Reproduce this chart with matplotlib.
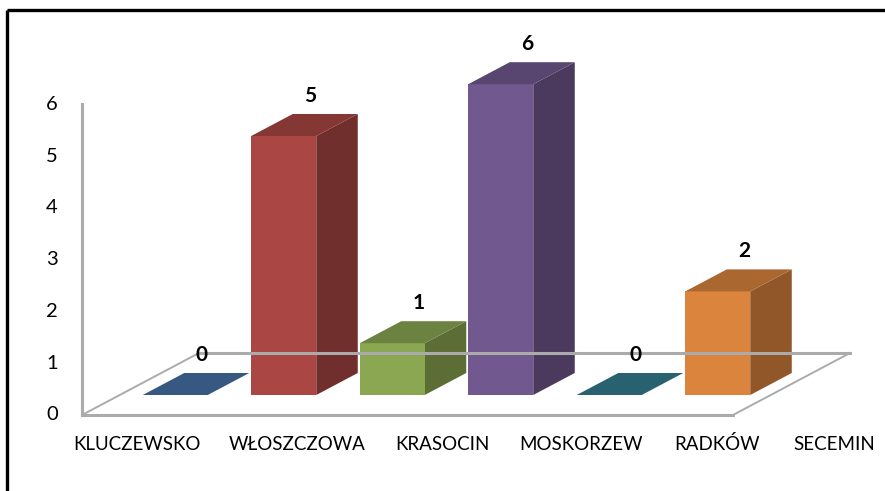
import numpy as np
import matplotlib.pyplot as plt
from matplotlib.patches import Polygon
from matplotlib.colors import to_rgb

plt.rcParams['font.family'] = ['Lato', 'DejaVu Sans']

# dane
categories = ['KLUCZEWSKO', 'WŁOSZCZOWA', 'KRASOCIN', 'MOSKORZEW', 'RADKÓW', 'SECEMIN']
values = [0, 5, 1, 6, 0, 2]
colors = ['#4f81bd', '#aa4643', '#8ba752', '#71588f', '#3b8ea3', '#db843d']
yticks = [0, 1, 2, 3, 4, 5, 6]

# uklad (piksele, skosna projekcja jak w Excelu 3D)
X0, Y0 = 82, 415          # przedni lewy rog podlogi
DX, DY = 117, -62         # wektor glebokosci
UNIT = 51.8               # piksele na jednostke
FLOOR_W = 651
SLOT = FLOOR_W / len(categories)
BAR_W = 65
GAP = 23
D_FRONT, D_BACK = 20 / 62, 42 / 62
label_x = [137, 297, 442, 581, 717, 834]
GRAY = '#ababab'


def proj(xs, v, d):
    return X0 + xs + d * DX, Y0 - v * UNIT + d * DY


def shade(c, f):
    return tuple(np.array(to_rgb(c)) * f)


fig = plt.figure(figsize=(8.85, 4.91), dpi=100)
ax = fig.add_axes([0, 0, 1, 1])
ax.set_xlim(0, 885)
ax.set_ylim(491, 0)
ax.axis('off')

# ramka
ax.plot([7, 885], [10, 10], color='black', lw=2.4, solid_capstyle='butt')
ax.plot([7, 7], [10, 491], color='black', lw=2.4, solid_capstyle='butt')

# podloga
fl = [proj(0, 0, 0), proj(FLOOR_W, 0, 0), proj(FLOOR_W, 0, 1), proj(0, 0, 1), proj(0, 0, 0)]
fx, fy = zip(*fl)
ax.plot(fx[:2], fy[:2], color=GRAY, lw=2.2)
ax.plot(fx[2:4], fy[2:4], color=GRAY, lw=2.2)
ax.plot(fx[1:3], fy[1:3], color=GRAY, lw=1.4)
ax.plot(fx[3:5], fy[3:5], color=GRAY, lw=1.4)

# os Y
ax.plot([X0, X0], [Y0, Y0 - 6 * UNIT], color=GRAY, lw=2.2)
for t in yticks:
    ax.text(58, Y0 - t * UNIT, str(t), ha='right', va='center', fontsize=14.5)

# slupki
for i, (v, c) in enumerate(zip(values, colors)):
    xl = i * SLOT + GAP
    fbl = proj(xl, 0, D_FRONT)
    fbr = proj(xl + BAR_W, 0, D_FRONT)
    ftl = proj(xl, v, D_FRONT)
    ftr = proj(xl + BAR_W, v, D_FRONT)
    bbr = proj(xl + BAR_W, 0, D_BACK)
    btl = proj(xl, v, D_BACK)
    btr = proj(xl + BAR_W, v, D_BACK)
    if v > 0:
        ax.add_patch(Polygon([fbr, bbr, btr, ftr], closed=True, fc=shade(c, 0.66), ec='none'))
        ax.add_patch(Polygon([fbl, fbr, ftr, ftl], closed=True, fc=c, ec='none'))
        ax.add_patch(Polygon([ftl, ftr, btr, btl], closed=True, fc=shade(c, 0.78), ec='none'))
    else:
        ax.add_patch(Polygon([ftl, ftr, btr, btl], closed=True, fc=shade(c, 0.68), ec='none'))
    ax.text(ftl[0] + 59, btl[1] - 18, str(v), ha='center', va='center',
            fontsize=15, fontweight='bold')

# etykiety kategorii
for x, name in zip(label_x, categories):
    ax.text(x, 450, name, ha='center', va='baseline', fontsize=13.5)

fig.savefig('out.png', dpi=100)
